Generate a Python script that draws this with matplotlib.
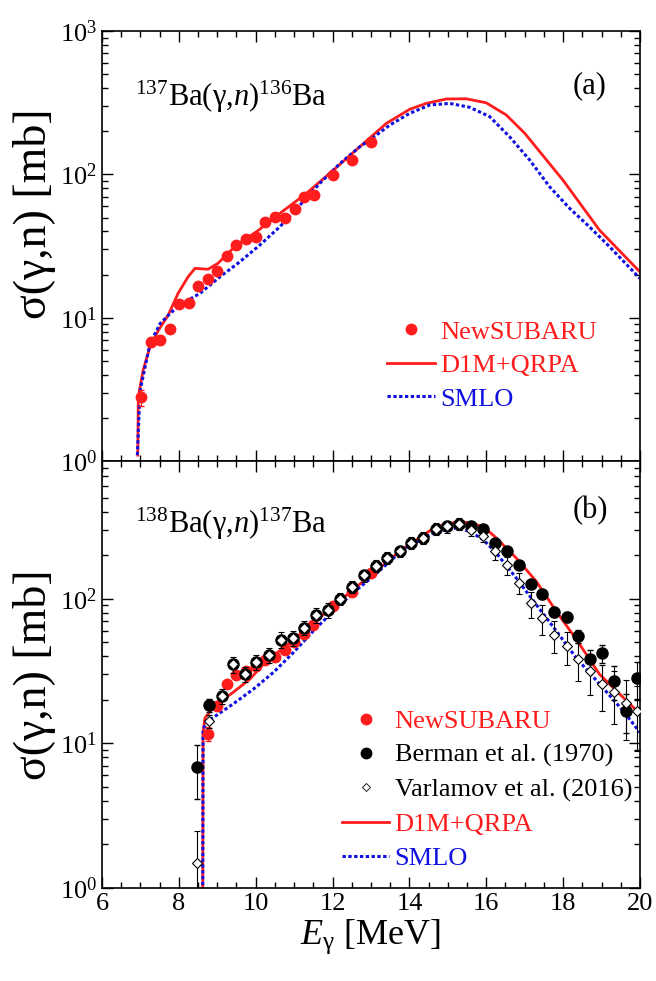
import matplotlib
matplotlib.use("Agg")
import matplotlib.pyplot as plt
from matplotlib.lines import Line2D
from matplotlib.ticker import MultipleLocator, LogLocator, NullFormatter

# ================================
# Data
# ================================

# (a) 137Ba(g,n)136Ba
a_exp_E = [7.01, 7.27, 7.51, 7.76, 8.00, 8.26, 8.50, 8.75, 9.00, 9.26, 9.50,
           9.75, 10.00, 10.25, 10.50, 10.77, 11.02, 11.27, 11.52, 12.02, 12.51, 13.01]
a_exp_sig = [2.78, 6.8, 7.0, 8.4, 12.5, 12.7, 16.7, 18.7, 21.3, 26.9, 32.2,
             35.2, 36.4, 46.3, 50.2, 49.9, 57.4, 69.2, 71.8, 99.6, 127, 169]
a_exp_err = [0.35, 0.4, 0.4, 0.5, 0.7, 0.7, 0.9, 1.0, 1.1, 1.3, 1.5,
             1.6, 1.7, 2.0, 2.2, 2.2, 2.5, 3.0, 3.0, 4.0, 5.0, 6.0]

a_qrpa_E = [6.93, 6.945, 7.07, 7.25, 7.47, 7.72, 7.98, 8.24, 8.42, 8.76, 9.02, 9.5,
            10.02, 10.63, 11.32, 12.02, 12.71, 13.4, 14.01, 14.44, 14.96, 15.48,
            16.0, 16.52, 17.0, 18.0, 18.95, 20.0]
a_qrpa_sig = [1.1, 2.8, 4.3, 6.3, 8.2, 10.4, 14.8, 19.3, 22.1, 21.8, 24, 32.2,
              39.8, 53.5, 73.8, 107, 156, 227, 285, 313, 336, 337,
              316, 260, 194, 91, 40.8, 20.9]

a_smlo_E = [6.92, 6.99, 7.25, 7.51, 7.77, 8.03, 8.55, 9.07, 9.59, 10.11, 10.63,
            11.15, 11.67, 12.19, 12.71, 12.97, 13.23, 13.49, 14.01, 14.53, 15.05,
            15.57, 16.09, 16.61, 17.13, 17.65, 18.17, 18.69, 19.21, 20.0]
a_smlo_sig = [1.1, 3.1, 6.6, 9.1, 10.7, 12.3, 14.8, 19.3, 24.6, 32.2, 43.2,
              61, 86.7, 119, 156, 174, 196, 221, 267, 305, 313,
              294, 253, 183, 126, 82, 58, 43, 31.3, 18.8]

# (b) 138Ba(g,n)137Ba
b_exp_E = [8.75, 9.0, 9.25, 9.5, 9.75, 10.0, 10.25, 10.5, 10.75, 11.0, 11.25,
           11.5, 12.0, 12.5, 13.0]
b_exp_sig = [11.6, 18.2, 25.7, 29.6, 31.5, 34.3, 37.8, 39.8, 44.3, 50.5, 57,
             65.8, 89, 112, 151]
b_exp_err = [1.3, 0.8, 1.0, 1.2, 1.2, 1.3, 1.4, 1.5, 1.6, 1.8, 2.0,
             2.2, 3.0, 4.0, 5.0]

ref_E = [8.46, 8.79, 9.11, 9.41, 9.72, 10.02, 10.34, 10.65, 10.96, 11.27, 11.58,
         11.89, 12.19, 12.51, 12.82, 13.13, 13.43, 13.75, 14.05, 14.36, 14.68,
         14.98, 15.29, 15.6, 15.92, 16.22, 16.53, 16.85, 17.16, 17.46, 17.77,
         18.09, 18.4, 18.7, 19.02, 19.32, 19.63, 19.93]

berman_sig = [6.9, 18.4, 21.3, 35.3, 30.1, 36.6, 40.9, 51.9, 53.3, 63, 77,
              83, 100, 121, 145, 168, 191, 213, 243, 263, 303,
              316, 330, 320, 303, 241, 215, 172, 127, 107, 81,
              75, 55, 38.2, 42, 27, 16.8, 28.4]
berman_err = [2.8, 2.0, 1.5, 2, 2, 2, 2, 2.5, 2.5, 3, 3,
              3.5, 4, 5, 6, 7, 8, 9, 10, 11, 12,
              13, 13, 13, 12, 10, 9, 8, 7, 7, 6,
              6, 6, 6, 6, 7, 5, 8]

varl_sig = [1.48, 14.2, 21.3, 35.3, 30.1, 36.6, 40.9, 51.9, 53.3, 63, 77,
            83, 100, 121, 145, 168, 191, 213, 243, 263, 303,
            316, 330, 300, 273, 213, 170, 129, 93, 73, 56,
            47, 38, 31.7, 25.7, 22.7, 19, 16.8]
varl_err = [1.0, 1.5, 2.5, 4.5, 3.5, 4.3, 5, 6.5, 6, 7, 9.5,
            10, 10, 12, 14, 16, 18, 20, 23, 25, 28,
            30, 31, 28, 26, 27, 24, 22, 19, 17, 14,
            12, 11, 10, 9, 9, 8.5, 8]

b_qrpa_E = [8.62, 8.63, 8.68, 8.94, 9.41, 9.85, 10.28, 10.8, 11.32, 12.02, 12.71,
            13.23, 13.75, 14.7, 15.31, 15.57, 15.92, 16.26, 16.78, 17.3, 17.82,
            18.34, 18.95, 19.56, 20.0]
b_qrpa_sig = [0.5, 12, 15, 18.2, 22.5, 27.8, 37.2, 47.2, 61.4, 89, 126,
              163, 213, 316, 342, 333, 316, 263, 191, 132, 82,
              52.5, 30, 20.8, 16]

b_smlo_E = [8.62, 8.63, 8.7, 8.9, 9.41, 9.94, 10.46, 10.98, 11.5, 12.02, 12.54,
            13.06, 13.84, 14.7, 15.22, 15.57, 15.92, 16.26, 16.78, 17.3, 17.82,
            18.34, 18.95, 19.56, 20.0]
b_smlo_sig = [0.5, 12, 14, 15.1, 18.7, 23.7, 30.9, 42.4, 59.8, 82, 110,
              143, 219, 292, 308, 292, 256, 207, 139, 91, 60,
              39, 25.7, 16.8, 11.9]

# ================================
# Style
# ================================

plt.rcParams["font.family"] = ["Liberation Serif", "DejaVu Serif"]
plt.rcParams["mathtext.fontset"] = "custom"
plt.rcParams["mathtext.rm"] = "Liberation Serif"
plt.rcParams["mathtext.it"] = "Liberation Serif:italic"
plt.rcParams["mathtext.bf"] = "Liberation Serif:bold"

RED = "#ff1c1c"
BLUE = "#1010e0"
SMLO_LS = (0, (1.1, 0.8))

fig = plt.figure(figsize=(6.56, 9.81), dpi=100)
ax_a = fig.add_axes([0.1555, 0.530, 0.820, 0.4383])
ax_b = fig.add_axes([0.1555, 0.0948, 0.820, 0.4353])


def style_axes(ax, ymax, label_y):
    ax.set_xlim(6, 20)
    ax.set_yscale("log")
    ax.set_ylim(1, ymax)
    ax.xaxis.set_major_locator(MultipleLocator(2))
    ax.xaxis.set_minor_locator(MultipleLocator(0.5))
    ax.yaxis.set_major_locator(LogLocator(base=10, numticks=10))
    ax.yaxis.set_minor_locator(LogLocator(base=10, subs=range(2, 10), numticks=20))
    ax.yaxis.set_minor_formatter(NullFormatter())
    ax.tick_params(which="both", direction="in", top=True, right=True,
                   width=1.0, labelsize=19)
    ax.tick_params(which="major", length=8)
    ax.tick_params(which="minor", length=4)
    for s in ax.spines.values():
        s.set_linewidth(1.2)
    ax.set_ylabel("σ(γ,n) [mb]", fontsize=33)
    ax.yaxis.set_label_coords(-0.086, label_y)


# ================================
# (a)
# ================================

ax = ax_a
ax.plot(a_qrpa_E, a_qrpa_sig, color=RED, lw=2.0, zorder=2)
ax.plot(a_smlo_E, a_smlo_sig, color=BLUE, lw=2.2, ls=SMLO_LS, zorder=2)
ax.errorbar(a_exp_E, a_exp_sig, yerr=a_exp_err, fmt="o", color=RED, ms=7.5,
            elinewidth=0.8, capsize=2, zorder=3)
style_axes(ax, 1000, 0.575)
ax.tick_params(labelbottom=False)
ax.text(0.061, 0.826, r"$^{137}$Ba(γ,$n$)$^{136}$Ba", transform=ax.transAxes,
        fontsize=22, va="baseline", ha="left")
ax.text(0.907, 0.874, "(a)", transform=ax.transAxes, fontsize=22,
        va="center", ha="center")

handles_a = [
    Line2D([], [], ls="none", marker="o", color=RED, ms=7.5),
    Line2D([], [], color=RED, lw=2.0),
    Line2D([], [], color=BLUE, lw=2.2, ls=SMLO_LS),
]
ax.legend(handles_a, ["NewSUBARU", "D1M+QRPA", "SMLO"], loc="upper left",
          bbox_to_anchor=(0.530, 0.328), frameon=False, fontsize=19,
          labelcolor=[RED, RED, BLUE], handlelength=1.8, handletextpad=0.2,
          labelspacing=0.38, borderpad=0, borderaxespad=0)

# ================================
# (b)
# ================================

ax = ax_b
ax.plot(b_qrpa_E, b_qrpa_sig, color=RED, lw=2.0, zorder=2)
ax.plot(b_smlo_E, b_smlo_sig, color=BLUE, lw=2.2, ls=SMLO_LS, zorder=2)
ax.errorbar(b_exp_E, b_exp_sig, yerr=b_exp_err, fmt="o", color=RED, ms=7.5,
            elinewidth=0.8, capsize=2, zorder=3)
ax.errorbar(ref_E, berman_sig, yerr=berman_err, fmt="o", color="black", ms=8,
            elinewidth=0.8, capsize=2.5, zorder=4)
ax.errorbar(ref_E, varl_sig, yerr=varl_err, fmt="D", mfc="white", mec="black",
            mew=0.8, ms=5.5, ecolor="black", elinewidth=0.8, capsize=2.5, zorder=5)
style_axes(ax, 895, 0.5)
ax.set_xlabel(r"$E_{\mathrm{\gamma}}$ [MeV]", fontsize=26, labelpad=2)
ax.text(0.061, 0.831, r"$^{138}$Ba(γ,$n$)$^{137}$Ba", transform=ax.transAxes,
        fontsize=22, va="baseline", ha="left")
ax.text(0.907, 0.883, "(b)", transform=ax.transAxes, fontsize=22,
        va="center", ha="center")

handles_b = [
    Line2D([], [], ls="none", marker="o", color=RED, ms=7.5),
    Line2D([], [], ls="none", marker="o", color="black", ms=7.5),
    Line2D([], [], ls="none", marker="D", mfc="white", mec="black", mew=0.6, ms=4.5),
    Line2D([], [], color=RED, lw=2.0),
    Line2D([], [], color=BLUE, lw=2.2, ls=SMLO_LS),
]
ax.legend(handles_b, ["NewSUBARU", "Berman et al. (1970)", "Varlamov et al. (2016)",
                      "D1M+QRPA", "SMLO"],
          loc="upper left", bbox_to_anchor=(0.446, 0.418), frameon=False,
          fontsize=19, labelcolor=[RED, "black", "black", RED, BLUE],
          handlelength=1.8, handletextpad=0.2, labelspacing=0.4,
          borderpad=0, borderaxespad=0)

fig.savefig("out.png", dpi=100)
